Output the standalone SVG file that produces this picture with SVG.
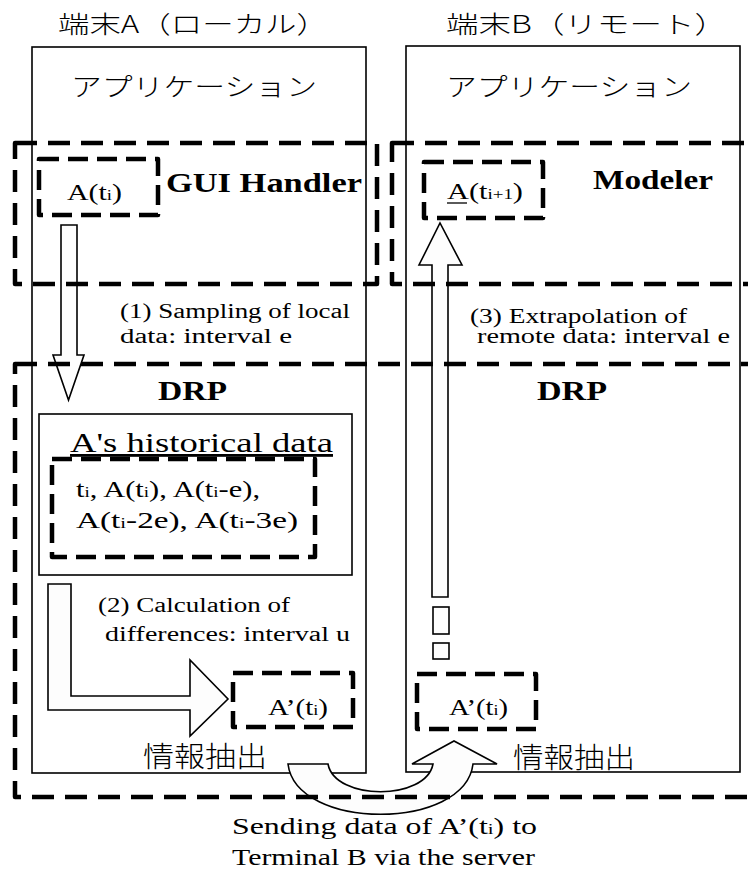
<svg xmlns="http://www.w3.org/2000/svg" width="748" height="884" viewBox="0 0 748 884">
<style>
.box{fill:none;stroke:#000;stroke-width:1.6}
.dl{fill:none;stroke:#000;stroke-width:4.5;stroke-dasharray:22 11;stroke-linejoin:round}
.ds{fill:none;stroke:#000;stroke-width:4.5;stroke-dasharray:20 9;stroke-linejoin:round}
.arr{fill:#fdfdfd;stroke:#000;stroke-width:1.6;stroke-linejoin:miter}
.t{font-family:'Liberation Serif','Times New Roman','DejaVu Serif',serif;fill:#000}
.b{font-weight:bold}
.jp{font-family:'Noto Sans CJK JP','Noto Sans CJK SC',sans-serif;fill:#000;font-weight:300}
</style>
<rect width="748" height="884" fill="#fff"/>

<g id="terminal-a">
  <rect class="box" x="32" y="47" width="334" height="726"/>
  <text class="jp" x="58" y="33" font-size="24" textLength="270" lengthAdjust="spacingAndGlyphs">端末A（ローカル）</text>
  <text class="jp" x="71" y="96" font-size="25" textLength="246" lengthAdjust="spacingAndGlyphs">アプリケーション</text>
  <text class="jp" x="143" y="767" font-size="28" textLength="124" lengthAdjust="spacingAndGlyphs">情報抽出</text>
</g>
<g id="terminal-b">
  <rect class="box" x="406" y="46" width="334" height="726"/>
  <text class="jp" x="446" y="33" font-size="24" textLength="281" lengthAdjust="spacingAndGlyphs">端末B（リモート）</text>
  <text class="jp" x="446" y="96" font-size="25" textLength="246" lengthAdjust="spacingAndGlyphs">アプリケーション</text>
  <text class="jp" x="513" y="768" font-size="28" textLength="122" lengthAdjust="spacingAndGlyphs">情報抽出</text>
</g>
<g id="historical-data">
  <rect class="box" x="39" y="414" width="313" height="161"/>
  <text class="t" x="70" y="452" font-size="28" textLength="263" lengthAdjust="spacingAndGlyphs" text-decoration="underline">A's historical data</text>
</g>

<g id="connectors">
  <polygon class="arr" points="61,225 77,225 77,355 84,355 68.5,400 53,355 61,355"/>
  <polygon class="arr" points="432,597 448,597 448,265 462,265 440,223 419,265 432,265"/>
  <rect class="arr" x="433" y="607" width="16" height="27"/>
  <rect class="arr" x="433" y="643" width="16" height="16"/>
  <polygon class="arr" points="48,584 71,584 71,696 190,696 190,660 228,699 190,736 190,710 48,710"/>
  <path class="arr" d="M288,764 L328,764 C335,801 426,801 433,764 L412,764 L454,741 L497,764 L473,764 C465,831 296,831 288,764 Z"/>
</g>

<g id="gui-handler">
  <rect class="dl" x="15" y="143" width="362" height="141"/>
  <text class="t b" x="166" y="192" font-size="28" textLength="196" lengthAdjust="spacingAndGlyphs">GUI Handler</text>
</g>
<g id="modeler">
  <rect class="dl" x="392" y="143" width="380" height="141"/>
  <text class="t b" x="593" y="189" font-size="28" textLength="120" lengthAdjust="spacingAndGlyphs">Modeler</text>
</g>
<g id="drp">
  <rect class="dl" x="15" y="364" width="760" height="433"/>
  <text class="t b" x="158" y="400" font-size="28" textLength="69" lengthAdjust="spacingAndGlyphs">DRP</text>
  <text class="t b" x="537" y="400" font-size="28" textLength="70" lengthAdjust="spacingAndGlyphs">DRP</text>
</g>
<g id="a-ti">
  <rect class="ds" x="39" y="159" width="119" height="56"/>
  <text class="t" x="67" y="200" font-size="24" textLength="55" lengthAdjust="spacingAndGlyphs">A(t<tspan font-size="15">i</tspan>)</text>
</g>
<g id="a-ti1">
  <rect class="ds" x="424" y="162" width="119" height="56"/>
  <text class="t" x="447" y="199" font-size="24" textLength="76" lengthAdjust="spacingAndGlyphs">A(t<tspan font-size="15">i+1</tspan>)</text>
  <line x1="447" y1="203" x2="467" y2="203" stroke="#000" stroke-width="1.3"/>
</g>
<g id="history-values">
  <rect class="ds" x="52" y="459" width="263" height="98"/>
  <text class="t" x="76" y="497" font-size="24" textLength="184" lengthAdjust="spacingAndGlyphs">t<tspan font-size="15">i</tspan>, A(t<tspan font-size="15">i</tspan>), A(t<tspan font-size="15">i</tspan>-e),</text>
  <text class="t" x="76" y="528" font-size="24" textLength="222" lengthAdjust="spacingAndGlyphs">A(t<tspan font-size="15">i</tspan>-2e), A(t<tspan font-size="15">i</tspan>-3e)</text>
</g>
<g id="a-prime-local">
  <rect class="ds" x="233" y="673" width="120" height="54"/>
  <text class="t" x="268" y="715" font-size="24" textLength="60" lengthAdjust="spacingAndGlyphs">A’(t<tspan font-size="15">i</tspan>)</text>
</g>
<g id="a-prime-remote">
  <rect class="ds" x="417" y="674" width="119" height="55"/>
  <text class="t" x="449" y="715" font-size="24" textLength="59" lengthAdjust="spacingAndGlyphs">A’(t<tspan font-size="15">i</tspan>)</text>
</g>

<g id="labels">
  <text class="t" x="120" y="318" font-size="20" textLength="230" lengthAdjust="spacingAndGlyphs">(1) Sampling of local</text>
  <text class="t" x="120" y="343" font-size="20" textLength="172" lengthAdjust="spacingAndGlyphs">data: interval e</text>
  <text class="t" x="470" y="323" font-size="20" textLength="217" lengthAdjust="spacingAndGlyphs">(3) Extrapolation of</text>
  <text class="t" x="477" y="343" font-size="20" textLength="253" lengthAdjust="spacingAndGlyphs">remote data: interval e</text>
  <text class="t" x="98" y="612" font-size="20" textLength="192" lengthAdjust="spacingAndGlyphs">(2) Calculation of</text>
  <text class="t" x="105" y="641" font-size="20" textLength="245" lengthAdjust="spacingAndGlyphs">differences: interval u</text>
  <text class="t" x="232" y="834" font-size="23" textLength="305" lengthAdjust="spacingAndGlyphs">Sending data of A’(t<tspan font-size="15">i</tspan>) to</text>
  <text class="t" x="232" y="865" font-size="23" textLength="303" lengthAdjust="spacingAndGlyphs">Terminal B via the server</text>
</g>
</svg>
